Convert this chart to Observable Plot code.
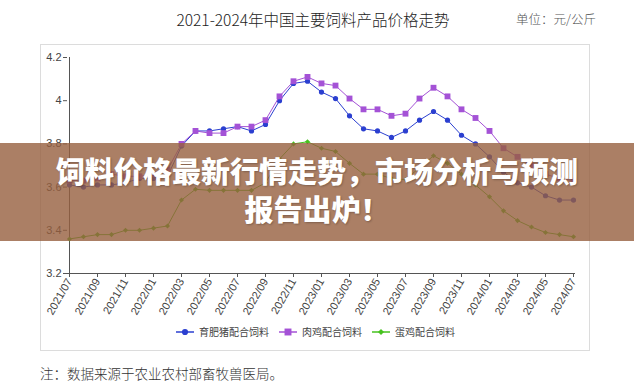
<!DOCTYPE html>
<html>
<head>
<meta charset="utf-8">
<script src="https://cdn.jsdelivr.net/npm/d3@7"></script>
<script src="https://cdn.jsdelivr.net/npm/@observablehq/plot@0.6"></script>
<style>
  html, body { margin: 0; padding: 0; background: #fff; }
  #root { position: relative; width: 634px; height: 384px; overflow: hidden; background: #fff; font-family: "Noto Sans CJK SC", sans-serif; }
  .abs { position: absolute; }
  #frame { left: 40px; top: 44px; width: 550px; height: 307px; border: 1px solid #dcdcdc; box-sizing: border-box; }
  #title { left: 0; width: 626px; top: 8px; text-align: center; font-size: 15.5px; font-weight: 300; color: #222; letter-spacing: 0; }
  #unit { left: 516px; top: 9px; font-size: 12.5px; font-weight: 300; color: #555; }
  #plot { left: 0; top: 0; }
  #legend { left: 175px; top: 324px; display: flex; align-items: center; font-size: 10px; color: #444; }
  #legend .item { display: flex; align-items: center; margin-right: 9px; }
  #legend svg { margin-right: 4px; }
  #note { left: 40px; top: 363px; font-size: 13.5px; font-weight: 300; color: #333; }
  #banner { left: 0; top: 143px; width: 634px; height: 98px; background: rgba(150,95,62,0.8); }
  #bannerText { left: 0; width: 634px; top: 151px; text-align: center; color: #fff; font-size: 29px; font-weight: 900; line-height: 38px; text-shadow: 1px 1px 2px rgba(0,0,0,0.25); }
</style>
</head>
<body>
<div id="root">
  <div id="frame" class="abs"></div>
  <div id="title" class="abs">2021-2024年中国主要饲料产品价格走势</div>
  <div id="unit" class="abs">单位：元/公斤</div>
  <div id="plot" class="abs"></div>
  <div id="legend" class="abs"></div>
  <div id="note" class="abs">注：数据来源于农业农村部畜牧兽医局。</div>
  <div id="banner" class="abs"></div>
  <div id="bannerText" class="abs">饲料价格最新行情走势，市场分析与预测<br>报告出炉！</div>
</div>
<script>
// Months 2021/07 .. 2024/07
const months = ["2021/07","2021/08","2021/09","2021/10","2021/11","2021/12",
  "2022/01","2022/02","2022/03","2022/04","2022/05","2022/06","2022/07","2022/08","2022/09","2022/10","2022/11","2022/12",
  "2023/01","2023/02","2023/03","2023/04","2023/05","2023/06","2023/07","2023/08","2023/09","2023/10","2023/11","2023/12",
  "2024/01","2024/02","2024/03","2024/04","2024/05","2024/06","2024/07"];
const tickMonths = ["2021/07","2021/09","2021/11","2022/01","2022/03","2022/05","2022/07","2022/09","2022/11",
  "2023/01","2023/03","2023/05","2023/07","2023/09","2023/11","2024/01","2024/03","2024/05","2024/07"];
const yTicks = [3.2, 3.4, 3.6, 3.8, 4.0, 4.2];

const seriesNames = ["育肥猪配合饲料", "肉鸡配合饲料", "蛋鸡配合饲料"];
const pigFeed = [3.61,3.60,3.61,3.61,3.62,3.64,3.64,3.65,3.79,3.86,3.86,3.87,3.88,3.86,3.89,4.00,4.08,4.09,
  4.04,4.01,3.93,3.87,3.86,3.83,3.86,3.91,3.95,3.91,3.84,3.80,3.74,3.67,3.62,3.60,3.56,3.54,3.54];
const broilerFeed = [3.63,3.63,3.64,3.66,3.65,3.65,3.66,3.68,3.80,3.86,3.85,3.85,3.88,3.88,3.91,4.02,4.09,4.11,
  4.08,4.07,4.01,3.96,3.96,3.93,3.94,4.01,4.06,4.02,3.96,3.92,3.86,3.78,3.74,3.70,3.66,3.64,3.63];
const layerFeed = [3.36,3.37,3.38,3.38,3.40,3.40,3.41,3.42,3.54,3.59,3.585,3.585,3.585,3.585,3.62,3.73,3.80,3.81,
  3.78,3.765,3.71,3.66,3.66,3.64,3.635,3.69,3.745,3.71,3.66,3.61,3.555,3.49,3.445,3.415,3.39,3.38,3.37];

const colors = ["#2b3fd0", "#a452d6", "#46c21f"];
const symbols = ["circle", "square", "diamond2"];
const radii = [2.6, 3.3, 2.3];

const allSeries = [pigFeed, broilerFeed, layerFeed];
const rows = [];
allSeries.forEach((vals, s) => vals.forEach((v, i) => rows.push({month: months[i], value: v, series: seriesNames[s]})));

const marks = [
  Plot.ruleX([months[0]], {stroke: "#555", strokeWidth: 1}),
  Plot.ruleY([3.2], {stroke: "#555", strokeWidth: 1}),
  Plot.axisY({ticks: yTicks, label: null, tickSize: 4, tickPadding: 2, tickFormat: d => String(+d.toFixed(1)), fontSize: 11, stroke: "#555", fill: "#444"}),
  Plot.axisX({ticks: tickMonths, label: null, tickSize: 4, tickPadding: 2, tickRotate: -60, fontSize: 11, stroke: "#555", fill: "#444"})
];
seriesNames.forEach((name, s) => {
  const d = rows.filter(r => r.series === name);
  marks.push(Plot.line(d, {x: "month", y: "value", stroke: colors[s], strokeWidth: 1}));
  marks.push(Plot.dot(d, {x: "month", y: "value", symbol: symbols[s], r: radii[s], fill: colors[s], stroke: "none"}));
});

const chart = Plot.plot({
  width: 634,
  height: 384,
  marginLeft: 67,
  marginRight: 59,
  marginTop: 57,
  marginBottom: 111,
  style: {fontFamily: "'Liberation Sans', Arial, sans-serif", fontSize: "11px", background: "transparent", color: "#444"},
  x: {type: "point", domain: months, padding: 0, axis: null, label: null},
  y: {domain: [3.2, 4.2], axis: null, label: null},
  marks
});
document.getElementById("plot").appendChild(chart);

// Legend
const legend = document.getElementById("legend");
seriesNames.forEach((name, s) => {
  const item = document.createElement("div");
  item.className = "item";
  const svg = d3.create("svg").attr("width", 20).attr("height", 10);
  svg.append("line").attr("x1", 1).attr("x2", 19).attr("y1", 5).attr("y2", 5).attr("stroke", colors[s]).attr("stroke-width", 1.5);
  const sym = {circle: d3.symbolCircle, square: d3.symbolSquare, diamond2: d3.symbolDiamond2}[symbols[s]];
  svg.append("path").attr("d", d3.symbol(sym, Math.PI * radii[s] * radii[s] * 1.4)()).attr("transform", "translate(10,5)").attr("fill", colors[s]);
  item.appendChild(svg.node());
  const t = document.createElement("span");
  t.textContent = name;
  item.appendChild(t);
  legend.appendChild(item);
});
</script>
</body>
</html>
